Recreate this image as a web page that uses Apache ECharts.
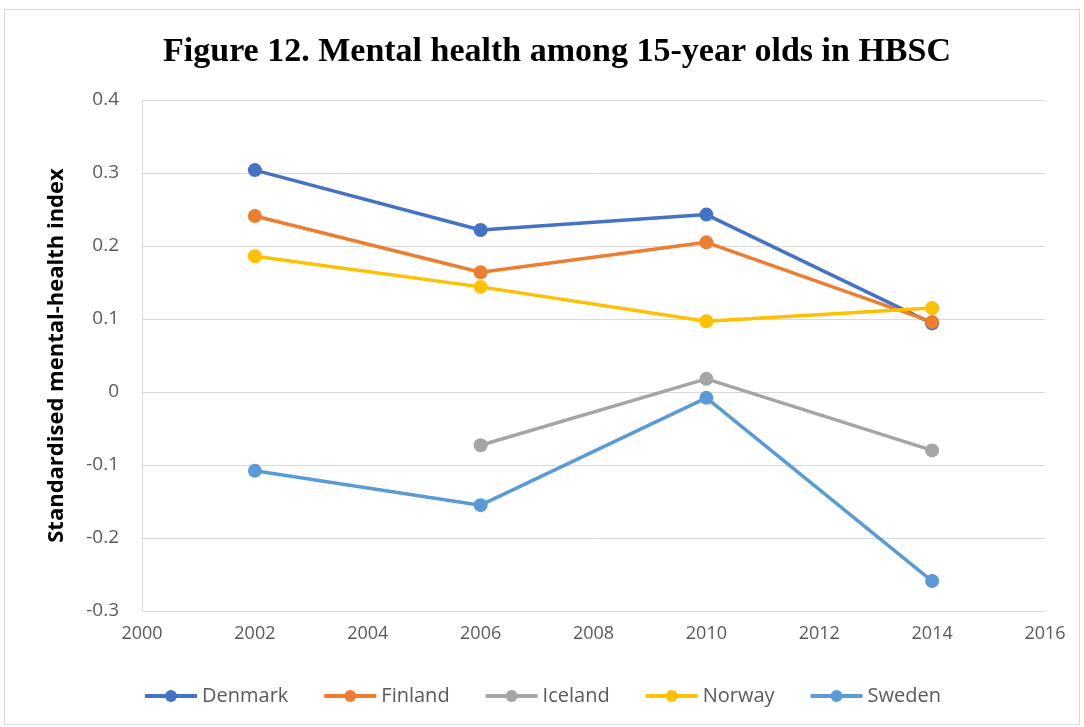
<!DOCTYPE html>
<html>
<head>
<meta charset="utf-8">
<script src="https://cdn.jsdelivr.net/npm/echarts@6/dist/echarts.min.js"></script>
<style>
  html, body { margin: 0; padding: 0; background: #fff; }
  #frame { position: absolute; left: 4px; top: 9px; width: 1076px; height: 716px; border: 1px solid #d9d9d9; box-sizing: border-box; }
  #chart { position: absolute; left: 0; top: 0; width: 1084px; height: 727px; }
</style>
</head>
<body>
<div id="frame"></div>
<div id="chart"></div>
<script>
// Survey years and standardised mental-health index per country
const years = [2002, 2006, 2010, 2014];
const denmark = [0.304, 0.222, 0.243, 0.094];
const finland = [0.241, 0.164, 0.205, 0.096];
const iceland = [null, -0.073, 0.018, -0.080];
const norway  = [0.186, 0.144, 0.097, 0.115];
const sweden  = [-0.108, -0.155, -0.008, -0.259];

const seriesDefs = [
  { name: 'Denmark', data: denmark, color: '#4472C4' },
  { name: 'Finland', data: finland, color: '#ED7D31' },
  { name: 'Iceland', data: iceland, color: '#A5A5A5' },
  { name: 'Norway',  data: norway,  color: '#FFC000' },
  { name: 'Sweden',  data: sweden,  color: '#5B9BD5' }
];

const labelFont = '"Open Sans", "Liberation Sans", sans-serif';

const chart = echarts.init(document.getElementById('chart'));
chart.setOption({
  animation: false,
  title: {
    text: 'Figure 12. Mental health among 15-year olds in HBSC',
    left: 'center',
    top: 30,
    left: 552,
    textAlign: 'center',
    textStyle: { fontFamily: '"Liberation Serif", "DejaVu Serif", serif', fontWeight: 'bold', fontSize: 34, color: '#000' }
  },
  grid: { left: 142, right: 39, top: 100, bottom: 116 },
  legend: {
    bottom: 16,
    left: 'center',
    itemWidth: 52,
    itemHeight: 15,
    itemGap: 34,
    lineStyle: { width: 4 },
    textStyle: { fontFamily: labelFont, fontSize: 20, color: '#595959' },
    data: seriesDefs.map(s => ({ name: s.name }))
  },
  xAxis: {
    type: 'value',
    min: 2000, max: 2016, interval: 2,
    axisLine: { show: true, lineStyle: { color: '#d9d9d9', width: 1 } },
    axisTick: { show: false },
    splitLine: { show: false },
    axisLabel: { fontFamily: labelFont, fontSize: 18, color: '#595959', margin: 14, formatter: v => String(v) }
  },
  yAxis: {
    type: 'value',
    min: -0.3, max: 0.4, interval: 0.1,
    name: 'Standardised mental-health index',
    nameLocation: 'middle',
    nameGap: 74,
    nameTextStyle: { fontFamily: labelFont, fontSize: 22, fontWeight: 'bold', color: '#000' },
    axisLine: { show: true, lineStyle: { color: '#d9d9d9', width: 1 } },
    axisTick: { show: false },
    splitLine: { show: true, lineStyle: { color: '#d9d9d9', width: 1 } },
    axisLabel: {
      fontFamily: labelFont, fontSize: 19, color: '#595959', margin: 23,
      formatter: v => {
        const r = Math.round(v * 10) / 10;
        return r === 0 ? '0' : String(r);
      }
    }
  },
  series: seriesDefs.map(s => ({
    name: s.name,
    type: 'line',
    data: years.map((y, i) => [y, s.data[i]]).filter(p => p[1] !== null),
    symbol: 'circle',
    symbolSize: 14,
    lineStyle: { width: 3.5, color: s.color },
    itemStyle: { color: s.color }
  }))
});
</script>
</body>
</html>
